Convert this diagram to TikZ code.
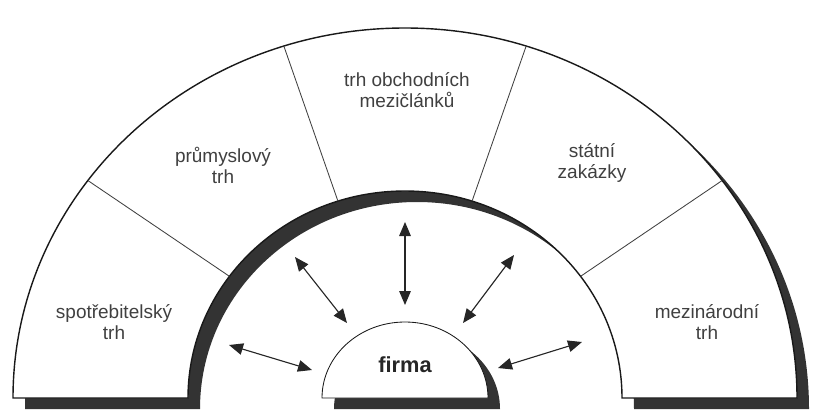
\documentclass[tikz,border=0pt]{standalone}
\usepackage{fontspec}
\setmainfont{Liberation Sans}
\usetikzlibrary{arrows.meta}

\begin{document}
\begin{tikzpicture}[x=0.025cm,y=0.025cm,
  market/.style={align=center,text=black!75,font=\fontsize{13.5}{15}\selectfont},
  twoway/.style={{Triangle[length=3.5mm,width=2.9mm]}-{Triangle[length=3.5mm,width=2.9mm]},line width=0.8pt,black!85},
  rim/.style={fill=white,draw=black!90,line width=1pt}]
  \useasboundingbox (0,0) rectangle (813,417);
  \coordinate (c) at (405,19);
  % ring of markets, its shadow first
  \fill[black!80] (25,8) arc[start angle=180,end angle=0,x radius=392,y radius=370]
    -- ++(-175,0) arc[start angle=0,end angle=180,x radius=217,y radius=207] -- cycle;
  \draw[rim] (13,19) arc[start angle=180,end angle=0,x radius=392,y radius=370]
    -- ++(-175,0) arc[start angle=0,end angle=180,x radius=217,y radius=207] -- cycle;
  \foreach \a in {36,72,108,144}
    \draw[black!75,line width=0.6pt] ([shift={(\a:217 and 207)}]c) -- ([shift={(\a:392 and 370)}]c);
  \node[market] (spotr) at (114,95) {spotřebitelský\\trh};
  \node[market] (prum) at (223,252) {průmyslový\\trh};
  \node[market] (mezic) at (407,327) {trh obchodních\\mezičlánků};
  \node[market] (stat) at (592,254) {státní\\zakázky};
  \node[market] (mezin) at (707,95) {mezinárodní\\trh};
  % the firm
  \fill[black!80] (334,8) arc[start angle=180,end angle=0,x radius=83,y radius=76] -- cycle;
  \draw[rim,line width=0.6pt] (322,19) arc[start angle=180,end angle=0,x radius=83,y radius=76] -- cycle;
  \node[font=\bfseries\fontsize{15.5}{18}\selectfont,text=black!85] (firma) at (405,52) {firma};
  % links between firm and markets
  \coordinate (o1) at (229,72);  \coordinate (i1) at (312,47);
  \coordinate (o2) at (295,160); \coordinate (i2) at (347,94);
  \coordinate (o3) at (405,195); \coordinate (i3) at (405,112);
  \coordinate (o4) at (514,162); \coordinate (i4) at (463,94);
  \coordinate (o5) at (582,75);  \coordinate (i5) at (498,49);
  \foreach \k in {1,...,5}
    \draw[twoway] (o\k) -- (i\k);
\end{tikzpicture}
\end{document}
